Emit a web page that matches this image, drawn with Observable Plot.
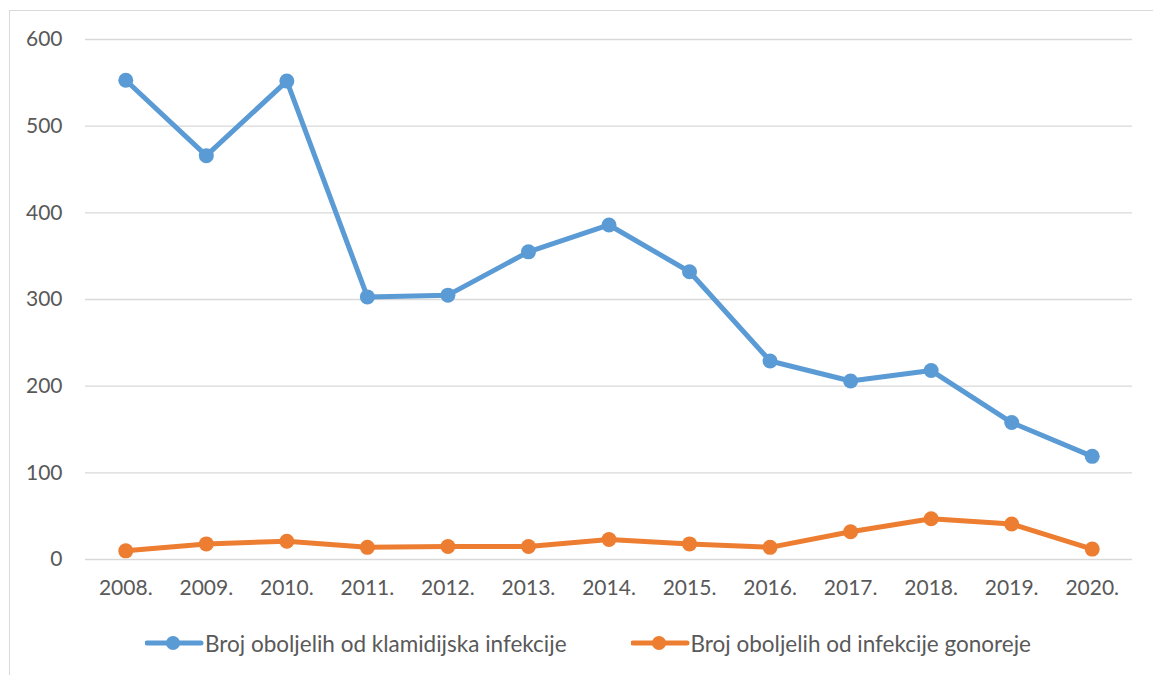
<!DOCTYPE html>
<html>
<head>
<meta charset="utf-8">
<script src="https://cdn.jsdelivr.net/npm/d3@7"></script>
<script src="https://cdn.jsdelivr.net/npm/@observablehq/plot@0.6"></script>
<style>
  html, body { margin: 0; padding: 0; background: #fff; overflow: hidden; width: 1153px; height: 675px; }
  #frame { position: absolute; left: 9px; top: 10px; width: 1200px; height: 720px; border: 1px solid #d9d9d9; box-sizing: border-box; }
  #chart { position: absolute; left: 0; top: 0; }
  #legend { position: absolute; left: 0; top: 615px; width: 1153px; height: 56px; display: flex; align-items: center; padding-left: 145px; box-sizing: border-box; gap: 64px; font-family: Lato, "Open Sans", sans-serif; font-size: 22.5px; color: #595959; }
  .item { display: flex; align-items: center; }
  .item svg { display: block; }
</style>
</head>
<body>
<div id="frame"></div>
<div id="chart"></div>
<div id="legend"></div>
<script>
const years = ["2008.", "2009.", "2010.", "2011.", "2012.", "2013.", "2014.", "2015.", "2016.", "2017.", "2018.", "2019.", "2020."];
const chlamydia = [553, 466, 552, 303, 305, 355, 386, 332, 229, 206, 218, 158, 119];
const gonorrhea = [10, 18, 21, 14, 15, 15, 23, 18, 14, 32, 47, 41, 12];
const seriesNames = ["Broj oboljelih od klamidijska infekcije", "Broj oboljelih od infekcije gonoreje"];
const seriesColors = ["#5b9bd5", "#ed7d31"];
const yTicks = [0, 100, 200, 300, 400, 500, 600];

const data = [];
years.forEach((y, i) => {
  data.push({year: y, value: chlamydia[i], series: seriesNames[0]});
});
years.forEach((y, i) => {
  data.push({year: y, value: gonorrhea[i], series: seriesNames[1]});
});

const plot = Plot.plot({
  width: 1153,
  height: 615,
  marginTop: 39,
  marginBottom: 56,
  marginLeft: 85,
  marginRight: 21,
  style: {fontFamily: "Lato, 'Open Sans', sans-serif", fontSize: "21px", color: "#595959", background: "transparent", overflow: "visible"},
  x: {type: "point", domain: years, padding: 0.5, round: false, label: null},
  y: {domain: [0, 600], label: null},
  color: {domain: seriesNames, range: seriesColors},
  marks: [
    Plot.gridY(yTicks, {stroke: "#d9d9d9", strokeOpacity: 1, strokeWidth: 1.3}),
    Plot.axisY(yTicks, {tickSize: 0, tickPadding: 23, fill: "#595959", label: null}),
    Plot.axisX({tickSize: 0, tickPadding: 21, fill: "#595959", label: null}),
    Plot.line(data, {x: "year", y: "value", z: "series", stroke: "series", strokeWidth: 5, strokeLinejoin: "round", strokeLinecap: "round"}),
    Plot.dot(data, {x: "year", y: "value", fill: "series", r: 7.5, stroke: "none"})
  ]
});
document.getElementById("chart").appendChild(plot);

const legend = d3.select("#legend");
seriesNames.forEach((name, i) => {
  const item = legend.append("div").attr("class", "item");
  const s = item.append("svg").attr("width", 60).attr("height", 20);
  s.append("line").attr("x1", 2).attr("x2", 56).attr("y1", 10).attr("y2", 10)
    .attr("stroke", seriesColors[i]).attr("stroke-width", 5).attr("stroke-linecap", "round");
  s.append("circle").attr("cx", 28).attr("cy", 10).attr("r", 7).attr("fill", seriesColors[i]);
  item.append("span").text(name);
});
</script>
</body>
</html>
